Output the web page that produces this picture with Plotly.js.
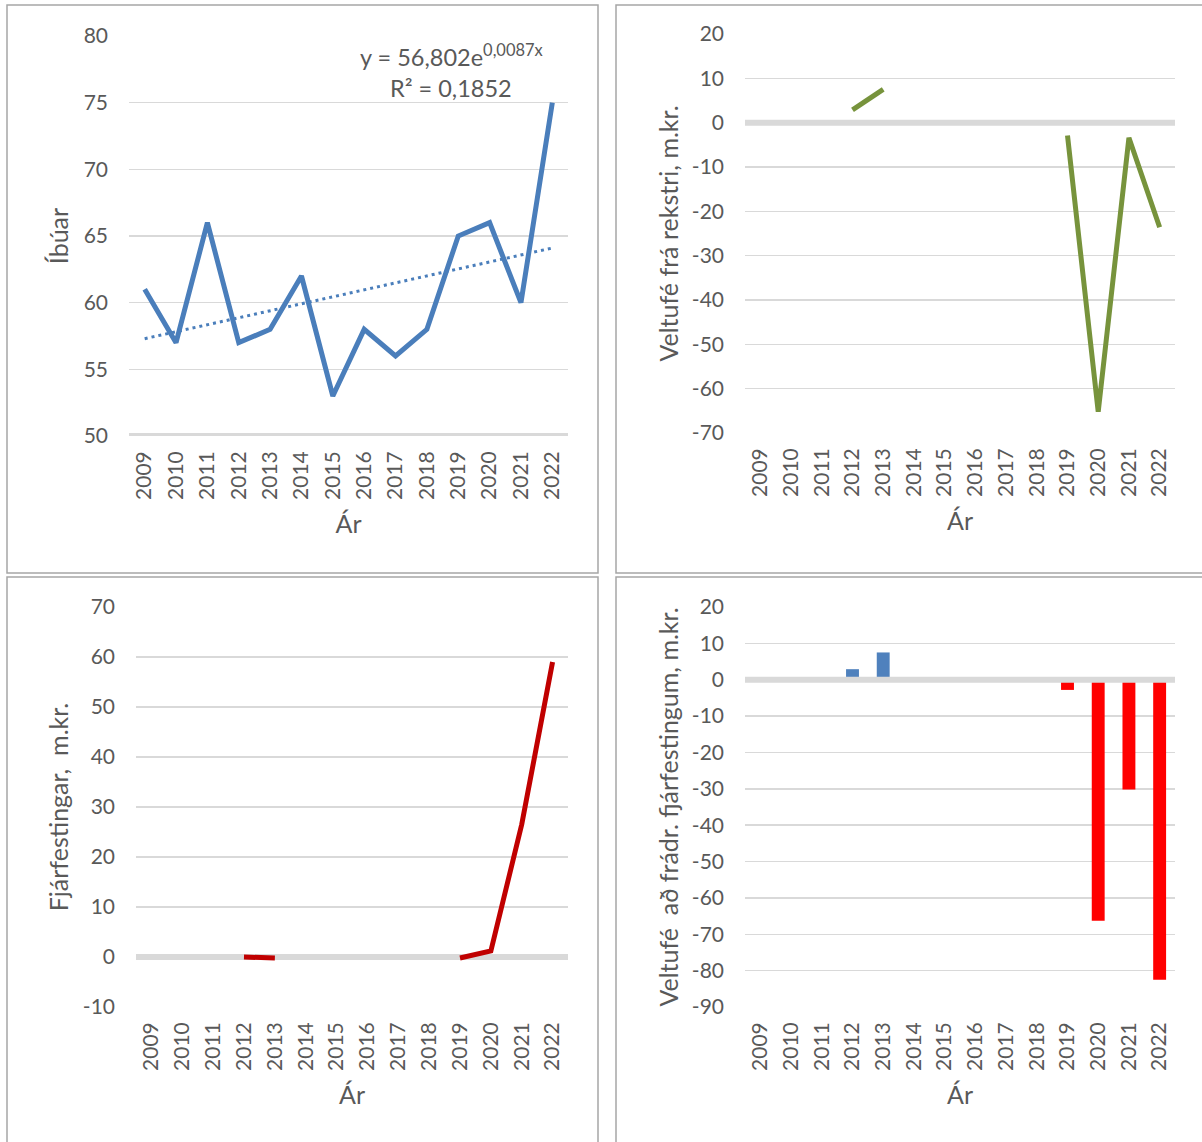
<!DOCTYPE html>
<html>
<head>
<meta charset="utf-8">
<script src="https://cdn.plot.ly/plotly-3.0.1.min.js"></script>
<style>html,body{margin:0;padding:0;background:#fff;}#chart{width:1202px;height:1142px;}</style>
</head>
<body>
<div id="chart"></div>
<script>
// ---- data ----
const years = ['2009','2010','2011','2012','2013','2014','2015','2016','2017','2018','2019','2020','2021','2022'];
const ibuar = [61, 57, 66, 57, 58, 62, 53, 58, 56, 58, 65, 66, 60, 75];
const trendYears = ['2009', '2022'];
const trendValues = [57.3, 64.1];
const trendEquation = 'y = 56,802e<sup>0,0087x</sup>';
const trendR2 = 'R² = 0,1852';
const veltufeRekstri = [null, null, null, 2.9, 7.5, null, null, null, null, null, -2.9, -65.2, -3.4, -23.6];
const fjarfestingar = [null, null, null, 0, -0.2, null, null, null, null, null, -0.2, 1.2, 26.5, 59];
const veltufeEftirFjarf = [null, null, null, 2.9, 7.5, null, null, null, null, null, -2.8, -66.3, -30.2, -82.5];

// tick labels (hyphen minus, as in the reference)
const ticks1 = [50, 55, 60, 65, 70, 75, 80];
const ticks2 = [-70, -60, -50, -40, -30, -20, -10, 0, 10, 20];
const ticks3 = [-10, 0, 10, 20, 30, 40, 50, 60, 70];
const ticks4 = [-90, -80, -70, -60, -50, -40, -30, -20, -10, 0, 10, 20];
const lbl = arr => arr.map(v => String(v));

// ---- styling ----
const W = 1202, H = 1142;
const FONT = 'Lato, "Open Sans", sans-serif';
const TXT = '#595959';
const GRID = '#d9d9d9';
const px = x => x / W;
const py = y => 1 - y / H;

const yBase = {
  showgrid: true, gridcolor: GRID, gridwidth: 1.5, zeroline: false, showline: false,
  ticks: '', tickfont: {family: FONT, size: 21, color: TXT}, ticklabelstandoff: 20,
  tickmode: 'array', fixedrange: true
};
const xBase = {
  type: 'category', tickangle: -90, showgrid: false, zeroline: false, showline: false,
  ticks: '', tickfont: {family: FONT, size: 21, color: TXT}, ticklabelstandoff: 10,
  range: [-0.5, 13.5], fixedrange: true
};
function yAx(extra, vals, title, standoff) {
  return Object.assign({}, yBase, extra, {tickvals: vals, ticktext: lbl(vals),
    title: {text: title, font: {family: FONT, size: 25, color: TXT}, standoff: standoff}});
}
function xAx(extra) {
  return Object.assign({}, xBase, extra, {title: {text: 'Ár', font: {family: FONT, size: 25, color: TXT}, standoff: 16}});
}

const traces = [
  {x: years, y: ibuar, type: 'scatter', mode: 'lines', xaxis: 'x', yaxis: 'y',
   line: {color: '#4a7ebb', width: 5}},
  {x: trendYears, y: trendValues, type: 'scatter', mode: 'lines', xaxis: 'x', yaxis: 'y',
   line: {color: '#4a7ebb', width: 3, dash: '3px,4px'}},
  {x: years, y: veltufeRekstri, type: 'scatter', mode: 'lines', xaxis: 'x2', yaxis: 'y2',
   line: {color: '#77933c', width: 5}, connectgaps: false},
  {x: years, y: fjarfestingar, type: 'scatter', mode: 'lines', xaxis: 'x3', yaxis: 'y3',
   line: {color: '#c00000', width: 5}, connectgaps: false},
  {x: years, y: veltufeEftirFjarf, type: 'bar', xaxis: 'x4', yaxis: 'y4',
   marker: {color: veltufeEftirFjarf.map(v => (v !== null && v >= 0) ? '#4f81bd' : '#ff0000'), line: {width: 0}}}
];

const border = {color: '#a6a6a6', width: 1.5};
const shapes = [
  {type: 'rect', xref: 'paper', yref: 'paper', x0: px(7), x1: px(598), y0: py(573), y1: py(5), line: border, layer: 'below'},
  {type: 'rect', xref: 'paper', yref: 'paper', x0: px(616), x1: px(1206), y0: py(573), y1: py(5), line: border, layer: 'below'},
  {type: 'rect', xref: 'paper', yref: 'paper', x0: px(7), x1: px(598), y0: py(1146), y1: py(577), line: border, layer: 'below'},
  {type: 'rect', xref: 'paper', yref: 'paper', x0: px(616), x1: px(1206), y0: py(1146), y1: py(577), line: border, layer: 'below'},
  {type: 'line', xref: 'x domain', yref: 'y', x0: 0, x1: 1, y0: 50, y1: 50, line: {color: GRID, width: 6}, layer: 'below'},
  {type: 'line', xref: 'x2 domain', yref: 'y2', x0: 0, x1: 1, y0: 0, y1: 0, line: {color: GRID, width: 6}, layer: 'below'},
  {type: 'line', xref: 'x3 domain', yref: 'y3', x0: 0, x1: 1, y0: 0, y1: 0, line: {color: GRID, width: 6}, layer: 'below'},
  {type: 'line', xref: 'x4 domain', yref: 'y4', x0: 0, x1: 1, y0: 0, y1: 0, line: {color: GRID, width: 6}, layer: 'above'}
];

const layout = {
  width: W, height: H,
  margin: {l: 0, r: 0, t: 0, b: 0},
  paper_bgcolor: '#ffffff', plot_bgcolor: 'rgba(0,0,0,0)',
  showlegend: false,
  bargap: 0.58,
  font: {family: FONT, color: TXT},
  xaxis: xAx({domain: [px(129), px(568)], anchor: 'y'}),
  yaxis: yAx({domain: [py(436), py(36)], range: [50, 80], anchor: 'x'}, ticks1, 'Íbúar', 7),
  xaxis2: xAx({domain: [px(745), px(1175)], anchor: 'y2'}),
  yaxis2: yAx({domain: [py(433), py(34)], range: [-70, 20], anchor: 'x2'}, ticks2, 'Veltufé frá rekstri, m.kr.', 6),
  xaxis3: xAx({domain: [px(136), px(568)], anchor: 'y3'}),
  yaxis3: yAx({domain: [py(1007), py(607)], range: [-10, 70], anchor: 'x3'}, ticks3, 'Fjárfestingar,\u00a0 m.kr.', 7),
  xaxis4: xAx({domain: [px(745), px(1175)], anchor: 'y4'}),
  yaxis4: yAx({domain: [py(1007), py(607)], range: [-90, 20], anchor: 'x4'}, ticks4, 'Veltufé\u00a0 að frádr. fjárfestingum, m.kr.', 6),
  shapes: shapes,
  annotations: [
    {xref: 'paper', yref: 'paper', x: px(451), y: py(55), xanchor: 'center', yanchor: 'middle',
     text: trendEquation, showarrow: false, font: {family: FONT, size: 23.5, color: TXT}},
    {xref: 'paper', yref: 'paper', x: px(451), y: py(88), xanchor: 'center', yanchor: 'middle',
     text: trendR2, showarrow: false, font: {family: FONT, size: 23.5, color: TXT}}
  ]
};

Plotly.newPlot('chart', traces, layout, {staticPlot: true, displayModeBar: false});
</script>
</body>
</html>
